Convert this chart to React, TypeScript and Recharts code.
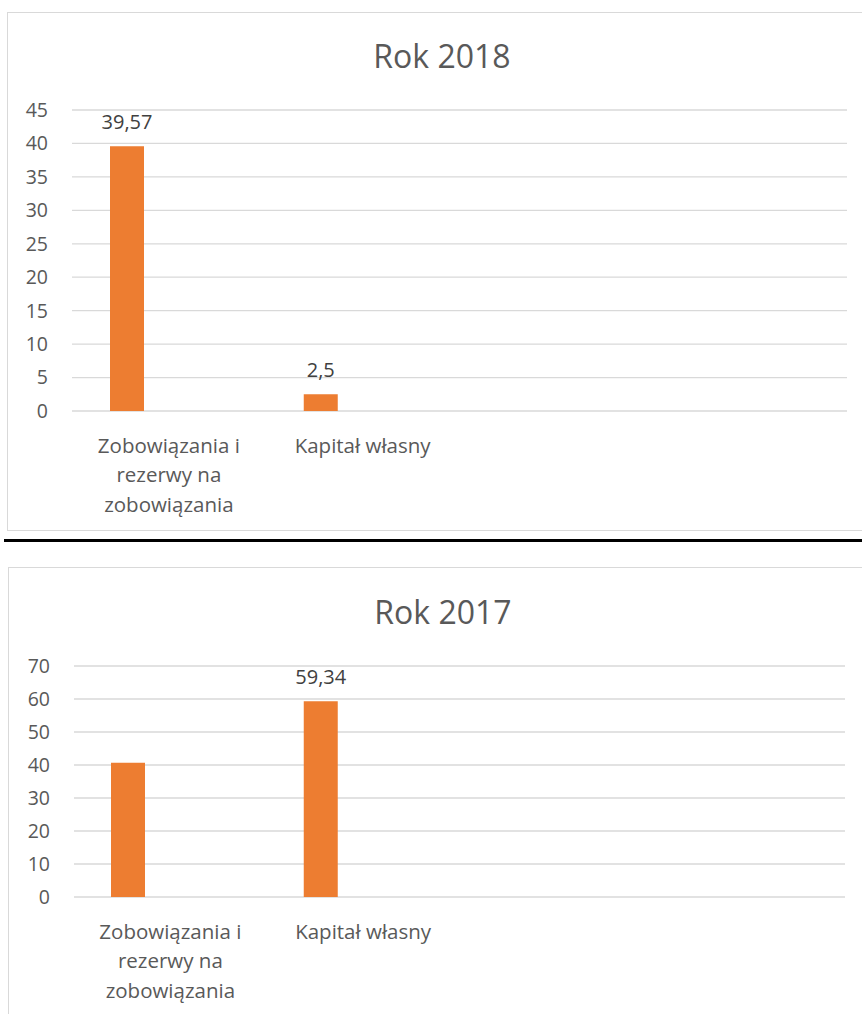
import React from 'react';
import { BarChart, Bar, XAxis, YAxis, CartesianGrid, LabelList, Text } from 'recharts';

const categories = ['Zobowiązania i rezerwy na zobowiązania', 'Kapitał własny', '', ''];
const values2018 = [39.57, 2.5, null, null];
const values2017 = [40.66, 59.34, null, null];
const showLabel2018 = [true, true, false, false];
const showLabel2017 = [false, true, false, false];
const ticks2018 = [0, 5, 10, 15, 20, 25, 30, 35, 40, 45];
const ticks2017 = [0, 10, 20, 30, 40, 50, 60, 70];

const FONT = '"Open Sans", sans-serif';
const ORANGE = '#ED7D31';
const GRID = '#d9d9d9';

const buildRows = (values: (number | null)[], show: boolean[]) =>
  categories.map((name, i) => ({ name, value: values[i], empty: null, show: show[i] }));

const CategoryTick = (props: any) => {
  const { x, y, payload } = props;
  if (!payload.value) return null;
  return (
    <Text
      x={x}
      y={y + 25}
      width={160}
      textAnchor="middle"
      verticalAnchor="start"
      lineHeight={29.5}
      fill="#595959"
      style={{ fontFamily: FONT, fontSize: 20.5 }}
    >
      {payload.value}
    </Text>
  );
};

const ValueLabel = (props: any) => {
  const { x, y, width, value, index, rows } = props;
  if (value == null || !rows[index].show) return null;
  return (
    <text
      x={x + width / 2}
      y={y - 17}
      textAnchor="middle"
      fill="#404040"
      style={{ fontFamily: FONT, fontSize: 20 }}
    >
      {String(value).replace('.', ',')}
    </text>
  );
};

interface PanelProps {
  title: string;
  rows: any[];
  ticks: number[];
  left: number;
  top: number;
  boxHeight: number;
  plotTop: number;
  plotBottom: number;
  rightMargin: number;
  yWidth: number;
  titleY: number;
}

const Panel: React.FC<PanelProps> = ({ title, rows, ticks, left, top, boxHeight, plotTop, plotBottom, rightMargin, yWidth, titleY }) => {
  const chartH = boxHeight - 2;
  return (
    <div
      style={{
        position: 'absolute',
        left,
        top,
        width: 870,
        height: boxHeight,
        border: `1px solid ${GRID}`,
        boxSizing: 'border-box',
        background: '#fff',
      }}
    >
      <div
        style={{
          position: 'absolute',
          left: 0,
          width: 868,
          top: titleY - 22,
          height: 44,
          lineHeight: '44px',
          textAlign: 'center',
          fontFamily: FONT,
          fontSize: 32,
          color: '#595959',
        }}
      >
        {title}
      </div>
      <BarChart
        width={868}
        height={chartH}
        data={rows}
        margin={{ top: plotTop, right: rightMargin, left: 0, bottom: 0 }}
        barGap={50}
      >
        <CartesianGrid vertical={false} stroke={GRID} strokeWidth={1.3} />
        <XAxis
          dataKey="name"
          interval={0}
          axisLine={false}
          tickLine={false}
          tickSize={0}
          height={chartH - plotBottom}
          tick={<CategoryTick />}
        />
        <YAxis
          width={yWidth}
          domain={[ticks[0], ticks[ticks.length - 1]]}
          ticks={ticks}
          axisLine={false}
          tickLine={false}
          tickSize={0}
          tickMargin={24}
          tick={{ fill: '#595959', fontSize: 19.5, fontFamily: FONT }}
        />
        <Bar dataKey="value" fill={ORANGE} barSize={34} isAnimationActive={false}>
          <LabelList dataKey="value" content={(p: any) => <ValueLabel {...p} rows={rows} />} />
        </Bar>
        <Bar dataKey="empty" fill="#4472C4" barSize={34} isAnimationActive={false} />
      </BarChart>
    </div>
  );
};

export default function App() {
  const rows2018 = buildRows(values2018, showLabel2018);
  const rows2017 = buildRows(values2017, showLabel2017);
  return (
    <div
      style={{
        position: 'fixed',
        left: 0,
        top: 0,
        width: 862,
        height: 1014,
        overflow: 'hidden',
        background: '#fff',
      }}
    >
      <Panel
        title="Rok 2018"
        rows={rows2018}
        ticks={ticks2018}
        left={7}
        top={12}
        boxHeight={519}
        plotTop={97}
        plotBottom={398}
        rightMargin={29}
        yWidth={64}
        titleY={43}
      />
      <div style={{ position: 'absolute', left: 4, top: 539, width: 858, height: 3, background: '#000' }} />
      <Panel
        title="Rok 2017"
        rows={rows2017}
        ticks={ticks2017}
        left={8}
        top={567}
        boxHeight={470}
        plotTop={98}
        plotBottom={329}
        rightMargin={32}
        yWidth={65}
        titleY={44}
      />
    </div>
  );
}
